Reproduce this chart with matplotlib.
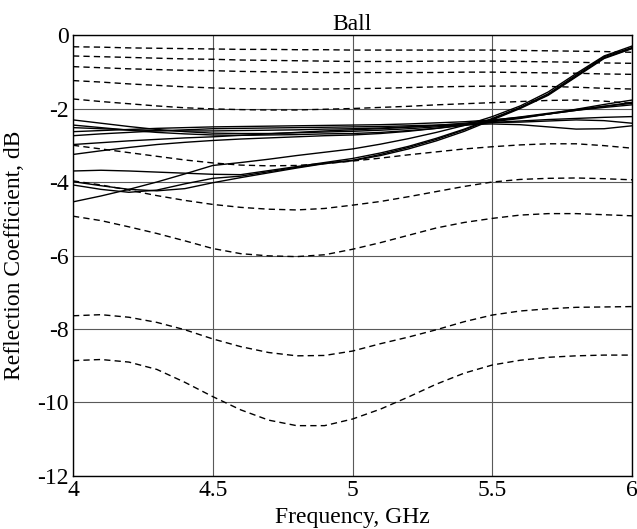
import numpy as np
import matplotlib
matplotlib.use('Agg')
import matplotlib.pyplot as plt

plt.rcParams['font.family'] = ['Liberation Serif', 'DejaVu Serif']
plt.rcParams['axes.unicode_minus'] = False

# frequency samples, GHz
freq = [4.0, 4.1, 4.2, 4.3, 4.4, 4.5, 4.6, 4.7, 4.8, 4.9, 5.0,
        5.1, 5.2, 5.3, 5.4, 5.5, 5.6, 5.7, 5.8, 5.9, 6.0]

# dashed traces (dB)
d1 = [-0.32, -0.33, -0.35, -0.36, -0.37, -0.38, -0.39, -0.39, -0.40, -0.40, -0.41,
      -0.41, -0.41, -0.41, -0.41, -0.41, -0.42, -0.43, -0.44, -0.45, -0.47]
d2 = [-0.57, -0.59, -0.61, -0.63, -0.65, -0.66, -0.68, -0.69, -0.70, -0.71, -0.72,
      -0.72, -0.72, -0.71, -0.71, -0.71, -0.72, -0.73, -0.74, -0.76, -0.77]
d3 = [-0.86, -0.89, -0.92, -0.94, -0.96, -0.97, -0.99, -1.00, -1.01, -1.02, -1.02,
      -1.02, -1.02, -1.02, -1.01, -1.01, -1.02, -1.03, -1.04, -1.06, -1.07]
d4 = [-1.24, -1.28, -1.33, -1.37, -1.41, -1.44, -1.46, -1.47, -1.47, -1.47, -1.46,
      -1.45, -1.43, -1.41, -1.40, -1.39, -1.39, -1.40, -1.42, -1.45, -1.47]
d5 = [-1.74, -1.81, -1.87, -1.93, -1.98, -2.01, -2.03, -2.04, -2.04, -2.02, -2.00,
      -1.97, -1.94, -1.90, -1.87, -1.84, -1.81, -1.78, -1.77, -1.80, -1.86]
d6 = [-3.00, -3.10, -3.20, -3.30, -3.40, -3.48, -3.54, -3.56, -3.55, -3.50, -3.43,
      -3.35, -3.26, -3.18, -3.10, -3.04, -2.99, -2.96, -2.96, -3.01, -3.08]
d7 = [-3.97, -4.08, -4.22, -4.37, -4.50, -4.61, -4.69, -4.74, -4.76, -4.72, -4.63,
      -4.53, -4.40, -4.26, -4.12, -4.00, -3.93, -3.90, -3.89, -3.91, -3.94]
d8 = [-4.93, -5.05, -5.22, -5.40, -5.60, -5.81, -5.95, -6.01, -6.03, -5.98, -5.83,
      -5.65, -5.45, -5.25, -5.10, -4.99, -4.90, -4.86, -4.86, -4.89, -4.92]
d9 = [-7.64, -7.61, -7.68, -7.82, -8.02, -8.27, -8.48, -8.64, -8.73, -8.72, -8.60,
      -8.40, -8.22, -8.02, -7.80, -7.62, -7.51, -7.45, -7.41, -7.40, -7.39]
d10 = [-8.86, -8.83, -8.90, -9.10, -9.45, -9.84, -10.20, -10.48, -10.63, -10.63, -10.45,
       -10.18, -9.85, -9.50, -9.20, -8.98, -8.85, -8.77, -8.73, -8.71, -8.71]

# solid traces (dB)
t1 = [-2.31, -2.40, -2.49, -2.57, -2.63, -2.67, -2.68, -2.68, -2.66, -2.64, -2.62,
      -2.59, -2.55, -2.50, -2.44, -2.36, -2.27, -2.15, -2.02, -1.89, -1.77]
t2 = [-2.45, -2.52, -2.59, -2.65, -2.69, -2.72, -2.73, -2.72, -2.71, -2.69, -2.68,
      -2.65, -2.60, -2.54, -2.46, -2.38, -2.34, -2.30, -2.27, -2.24, -2.22]
t3 = [-2.52, -2.55, -2.58, -2.60, -2.61, -2.61, -2.60, -2.59, -2.58, -2.56, -2.55,
      -2.53, -2.50, -2.47, -2.44, -2.42, -2.44, -2.50, -2.56, -2.55, -2.47]
t4 = [-2.63, -2.60, -2.57, -2.54, -2.52, -2.50, -2.49, -2.48, -2.47, -2.46, -2.45,
      -2.44, -2.42, -2.39, -2.36, -2.31, -2.24, -2.15, -2.05, -1.94, -1.83]
t5 = [-2.74, -2.69, -2.65, -2.61, -2.58, -2.55, -2.54, -2.53, -2.52, -2.51, -2.50,
      -2.49, -2.47, -2.45, -2.42, -2.38, -2.37, -2.34, -2.31, -2.33, -2.40]
t6 = [-2.98, -2.93, -2.88, -2.84, -2.80, -2.77, -2.73, -2.69, -2.65, -2.61, -2.58,
      -2.55, -2.51, -2.46, -2.40, -2.32, -2.23, -2.13, -2.03, -1.94, -1.86]
t7 = [-3.25, -3.15, -3.06, -2.98, -2.92, -2.87, -2.83, -2.80, -2.77, -2.74, -2.72,
      -2.68, -2.62, -2.54, -2.44, -2.34, -2.25, -2.15, -2.05, -1.97, -1.90]
a1 = [-4.54, -4.38, -4.20, -4.00, -3.78, -3.55, -3.47, -3.38, -3.28, -3.19, -3.10,
      -2.97, -2.82, -2.65, -2.46, -2.22, -1.93, -1.55, -1.05, -0.57, -0.30]
a2 = [-3.70, -3.68, -3.70, -3.73, -3.76, -3.79, -3.80, -3.69, -3.58, -3.47, -3.36,
      -3.21, -3.03, -2.81, -2.56, -2.27, -1.97, -1.60, -1.09, -0.59, -0.34]
a3 = [-4.08, -4.20, -4.28, -4.22, -4.05, -3.90, -3.84, -3.72, -3.60, -3.49, -3.41,
      -3.25, -3.06, -2.84, -2.58, -2.29, -1.98, -1.62, -1.12, -0.62, -0.36]
a4 = [-3.99, -4.10, -4.20, -4.24, -4.18, -4.02, -3.88, -3.75, -3.62, -3.50, -3.42,
      -3.28, -3.10, -2.88, -2.62, -2.31, -2.00, -1.64, -1.14, -0.64, -0.37]

dashed = [d1, d2, d3, d4, d5, d6, d7, d8, d9, d10]
solid = [t1, t2, t3, t4, t5, t6, t7, a1, a2, a3, a4]

fig = plt.figure(figsize=(6.37, 5.29), dpi=100)
ax = fig.add_axes([0.1146, 0.1002, 0.8776, 0.8336])

for y in dashed:
    ax.plot(freq, y, color='k', lw=1.0, linestyle=(0, (4.5, 3)))
for y in solid:
    ax.plot(freq, y, color='k', lw=1.0)

ax.set_xlim(4, 6)
ax.set_ylim(-12, 0)
ax.set_xticks([4, 4.5, 5, 5.5, 6])
ax.set_xticklabels(['4', '4.5', '5', '5.5', '6'])
ax.set_yticks([-12, -10, -8, -6, -4, -2, 0])
ax.grid(True, color='0.35', lw=0.8)
ax.tick_params(direction='in', length=0, labelsize=17, pad=3)
for s in ax.spines.values():
    s.set_linewidth(1.0)

ax.set_title('Ball', fontsize=17, pad=2)
ax.set_xlabel('Frequency, GHz', fontsize=17, labelpad=4)
ax.set_ylabel('Reflection Coefficient, dB', fontsize=17, labelpad=9)

fig.savefig('out.png', dpi=100)
